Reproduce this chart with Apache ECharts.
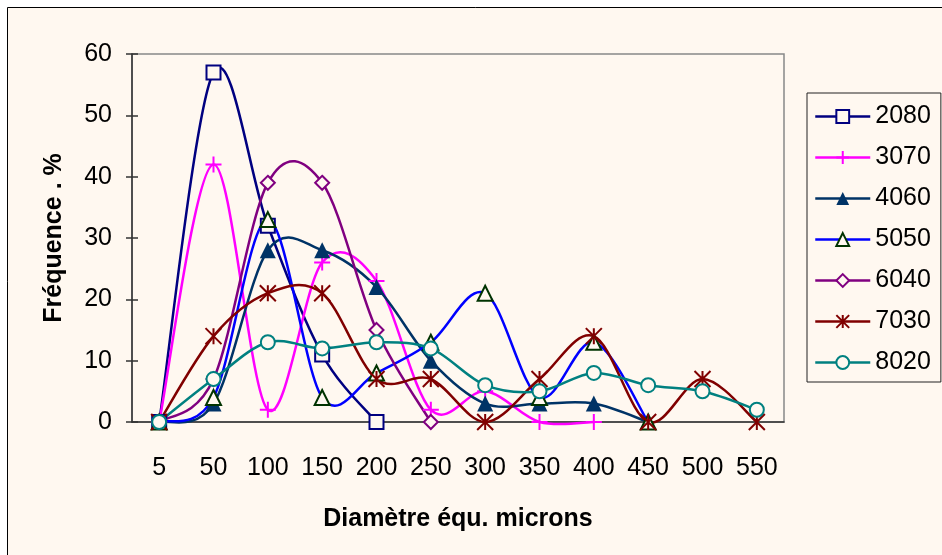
<!DOCTYPE html>
<html>
<head>
<meta charset="utf-8">
<script src="https://cdn.jsdelivr.net/npm/echarts@6/dist/echarts.min.js"></script>
<style>
  html, body { margin: 0; padding: 0; background: #fff; }
  #main { width: 942px; height: 555px; }
</style>
</head>
<body>
<div id="main"></div>
<script>
// catégories (diamètre équ.) et fréquences en %
var categories = ['5', '50', '100', '150', '200', '250', '300', '350', '400', '450', '500', '550'];
var s2080 = [0, 57, 32, 11, 0];
var s3070 = [0, 42, 2, 26, 23, 2, 5, 0, 0];
var s4060 = [0, 3, 28, 28, 22, 10, 3, 3, 3, 0];
var s5050 = [0, 4, 33, 4, 8, 13, 21, 4, 13, 0];
var s6040 = [0, 7, 39, 39, 15, 0];
var s7030 = [0, 14, 21, 21, 7, 7, 0, 7, 14, 0, 7, 0];
var s8020 = [0, 7, 13, 12, 13, 12, 6, 5, 8, 6, 5, 2];
var yTicks = [0, 60, 10];

var bg = '#FFF8F0';
var font = 'Liberation Sans, Arial, sans-serif';
var plus = 'path://M5,0L5,10M0,5L10,5';
var star = 'path://M5,0L5,10M0,0L10,10M0,10L10,0';

// courbe lissée façon Excel (catmull-rom) sur les coordonnées de l'axe
function curve(data, color) {
    return {
        type: 'custom',
        silent: true,
        clip: false,
        data: [[0, 0]],
        z: 1,
        renderItem: function (params, api) {
            var p = data.map(function (v, i) { return api.coord([i, v]); });
            var d = 'M' + p[0][0] + ',' + p[0][1];
            for (var i = 0; i < p.length - 1; i++) {
                var p0 = p[i - 1] || p[i], p1 = p[i], p2 = p[i + 1], p3 = p[i + 2] || p[i + 1];
                var c1 = [p1[0] + (p2[0] - p0[0]) / 6, p1[1] + (p2[1] - p0[1]) / 6];
                var c2 = [p2[0] - (p3[0] - p1[0]) / 6, p2[1] - (p3[1] - p1[1]) / 6];
                d += 'C' + c1[0] + ',' + c1[1] + ' ' + c2[0] + ',' + c2[1] + ' ' + p2[0] + ',' + p2[1];
            }
            return {
                type: 'path',
                shape: { pathData: d },
                style: { stroke: color, lineWidth: 2.5, fill: 'none' }
            };
        }
    };
}

function serie(name, data, lineColor, symbol, markColor, filled, size) {
    return {
        name: name,
        type: 'line',
        data: data,
        symbol: symbol,
        symbolSize: size || 14,
        showAllSymbol: true,
        z: 3,
        color: lineColor,
        lineStyle: { color: lineColor, width: 0 },
        itemStyle: {
            color: filled ? markColor : bg,
            borderColor: markColor,
            borderWidth: filled ? 0 : 2
        },
        emphasis: { disabled: true }
    };
}

var myChart = echarts.init(document.getElementById('main'));

var option = {
    backgroundColor: '#fff',
    animation: false,
    textStyle: { fontFamily: font },
    graphic: [{
        type: 'rect',
        z: -10,
        shape: { x: 7.5, y: 7.5, width: 1000, height: 600 },
        style: { fill: bg, stroke: '#000', lineWidth: 1 }
    }],
    grid: {
        left: 132, top: 54, right: 158, bottom: 133,
        show: true, borderColor: '#888', borderWidth: 1.5,
        backgroundColor: 'transparent'
    },
    legend: {
        orient: 'vertical',
        left: 807, top: 93,
        width: 120,
        padding: [11, 10, 7, 7],
        borderColor: '#222', borderWidth: 1,
        backgroundColor: bg,
        itemWidth: 55, itemHeight: 16, itemGap: 16,
        lineStyle: { width: 2.5 },
        textStyle: { fontSize: 25, color: '#000', fontFamily: font },
        data: ['2080', '3070', '4060', '5050', '6040', '7030', '8020']
    },
    xAxis: [{
        type: 'category',
        data: categories,
        boundaryGap: true,
        name: 'Diamètre équ. microns',
        nameLocation: 'middle',
        nameGap: 85,
        nameTextStyle: { fontSize: 25, fontWeight: 'bold', color: '#000' },
        axisLine: { lineStyle: { color: '#333', width: 1.5 } },
        axisTick: { length: 8, lineStyle: { color: '#333', width: 1.5 } },
        axisLabel: { fontSize: 25, color: '#000', margin: 34, interval: 0 },
        splitLine: { show: false }
    }, {
        type: 'category',
        data: categories,
        position: 'bottom',
        boundaryGap: true,
        axisLine: { show: false },
        axisTick: { inside: true, length: 7, lineStyle: { color: '#333', width: 1.5 } },
        axisLabel: { show: false },
        splitLine: { show: false }
    }],
    yAxis: [{
        type: 'value',
        min: yTicks[0], max: yTicks[1], interval: yTicks[2],
        name: 'Fréquence . %',
        nameLocation: 'middle',
        nameGap: 65,
        nameTextStyle: { fontSize: 25, fontWeight: 'bold', color: '#000' },
        axisLine: { show: true, lineStyle: { color: '#333', width: 1.5 } },
        axisTick: { show: true, length: 6, lineStyle: { color: '#333', width: 1.5 } },
        axisLabel: { fontSize: 25, color: '#000', margin: 20 },
        splitLine: { show: false }
    }, {
        type: 'value',
        position: 'left',
        min: yTicks[0], max: yTicks[1], interval: yTicks[2],
        axisLine: { show: false },
        axisTick: { show: true, inside: true, length: 6, lineStyle: { color: '#333', width: 1.5 } },
        axisLabel: { show: false },
        splitLine: { show: false }
    }],
    series: [
        curve(s2080, '#000080'),
        serie('2080', s2080, '#000080', 'rect', '#000080', false),
        curve(s3070, '#FF00FF'),
        serie('3070', s3070, '#FF00FF', plus, '#FF00FF', false, 16),
        curve(s4060, '#003366'),
        serie('4060', s4060, '#003366', 'triangle', '#003366', true, 16),
        curve(s5050, '#0000FF'),
        serie('5050', s5050, '#0000FF', 'triangle', '#003300', false, 15),
        curve(s6040, '#800080'),
        serie('6040', s6040, '#800080', 'diamond', '#800080', false),
        curve(s7030, '#800000'),
        serie('7030', s7030, '#800000', star, '#800000', false, 16),
        curve(s8020, '#008080'),
        serie('8020', s8020, '#008080', 'circle', '#008080', false)
    ]
};

myChart.setOption(option);
</script>
</body>
</html>
